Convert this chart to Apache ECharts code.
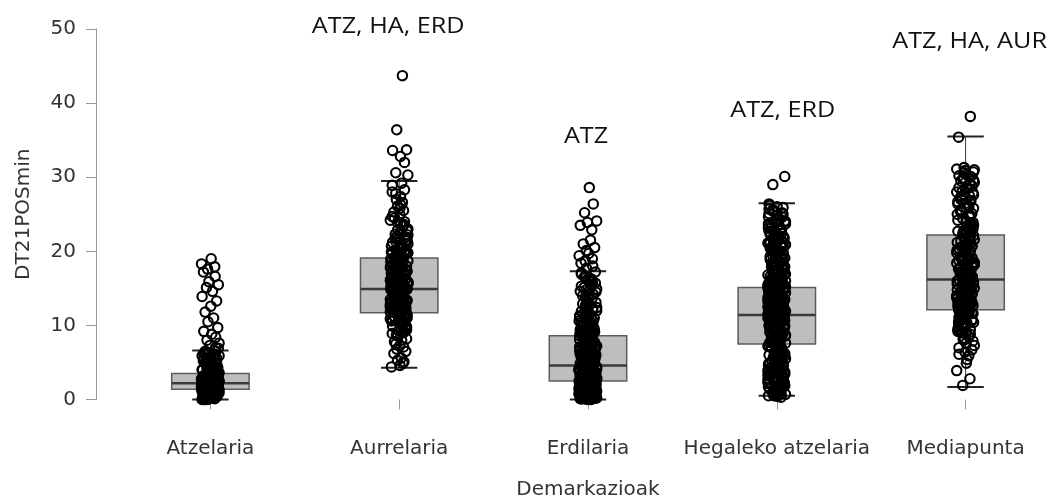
<!DOCTYPE html>
<html>
<head>
<meta charset="utf-8">
<script src="https://cdn.jsdelivr.net/npm/echarts@6/dist/echarts.min.js"></script>
<style>
  html, body { margin: 0; padding: 0; background: #ffffff; }
  #chart { width: 1051px; height: 500px; }
</style>
</head>
<body>
<div id="chart"></div>
<script>
// Playing positions (demarkazioak)
const categories = ['Atzelaria', 'Aurrelaria', 'Erdilaria', 'Hegaleko atzelaria', 'Mediapunta'];

// Box statistics per position: lower whisker, Q1, median, Q3, upper whisker
const boxLow    = [0.0,  4.3, 0.0,  0.5,  1.7];
const boxQ1     = [1.4, 11.7, 2.5,  7.5, 12.1];
const boxMedian = [2.2, 14.9, 4.6, 11.4, 16.2];
const boxQ3     = [3.5, 19.1, 8.6, 15.1, 22.2];
const boxHigh   = [6.6, 29.5, 17.3, 26.5, 35.5];

// Individual observations (DT21POSmin) per position
const pointsAtzelaria = [
  0.1,2.3,1.5,3.4,0.6,4.8,2.0,1.1,5.6,2.7,0.3,3.1,1.8,6.2,2.4,0.9,4.1,1.3,2.9,0.2,3.8,1.6,5.1,2.1,0.7,
  3.5,1.9,6.6,2.6,1.2,4.4,0.4,2.2,3.2,1.4,5.9,0.8,2.8,1.7,4.7,0.0,3.0,2.5,1.0,5.3,1.5,3.6,0.5,2.0,6.0,
  1.3,2.4,4.2,0.9,3.3,1.8,0.1,5.0,2.7,1.1,3.9,2.2,0.6,4.5,1.6,3.1,0.3,2.9,5.7,1.4,2.1,0.8,3.7,1.9,6.4,
  2.5,1.0,4.0,0.2,3.4,2.3,1.7,5.4,0.7,2.6,1.2,4.9,3.0,0.4,2.0,6.9,1.5,3.5,0.0,2.8,4.3,1.1,2.4,0.5,3.2,
  5.5,1.8,7.0,2.2,0.9,3.8,1.3,4.6,0.3,2.7,
  0.4,1.0,1.9,2.8,3.6,4.4,5.2,6.1,0.2,1.5,2.5,3.3,4.0,4.9,5.8,6.5,0.7,2.0,3.0,0.0,
  1.2,3.0,0.5,2.4,4.6,1.7,0.2,3.5,2.0,5.5,0.9,2.7,1.4,4.1,0.3,3.2,1.9,6.3,2.5,0.7,
  3.8,1.1,2.2,5.0,0.0,2.9,1.6,4.3,0.6,3.4,2.1,1.0,5.9,2.6,0.4,3.7,1.3,4.8,2.3,0.8,
  19.0,18.3,17.9,17.6,17.2,16.6,15.9,15.5,15.1,14.6,13.9,13.3,12.6,11.8,11.0,10.5,9.7,9.2,8.8,8.4,8.0,7.6,7.3
];
const pointsAurrelaria = [
  14.9,11.2,18.4,13.1,21.6,9.8,15.7,12.4,16.9,7.5,19.8,14.2,10.6,23.4,13.7,17.3,11.9,15.1,25.8,12.8,
  20.5,16.2,8.9,14.6,18.9,13.4,22.3,10.1,15.9,12.1,17.8,6.2,14.0,19.3,11.6,16.5,27.4,13.0,15.4,21.0,
  9.3,17.1,12.6,14.8,24.5,11.3,18.1,15.6,10.9,13.9,20.1,16.7,5.1,14.3,22.8,12.2,17.5,15.2,11.0,19.5,
  13.6,26.6,16.0,8.2,14.5,18.6,12.9,21.3,15.8,10.4,13.3,17.0,29.2,11.7,16.3,14.1,20.8,12.5,7.1,15.5,
  18.2,13.8,23.9,11.4,16.8,14.7,19.0,9.6,12.0,17.6,15.0,22.0,13.2,10.7,16.4,28.3,14.4,18.7,12.3,4.4,
  15.3,20.4,11.1,17.4,13.5,24.9,16.1,10.2,14.9,19.7,12.7,8.6,15.7,21.8,13.9,17.9,11.5,16.6,25.3,14.2,
  6.8,18.0,12.0,15.2,20.0,13.1,23.0,10.8,16.9,4.9,14.6,19.2,12.4,26.1,15.9,11.8,17.2,13.6,28.9,9.1,
  16.2,21.5,14.0,5.6,18.5,
  10.0,12.9,14.4,16.0,17.7,19.9,21.2,22.6,11.4,13.3,15.8,18.3,20.7,9.0,8.0,7.8,6.5,5.3,4.6,24.2,
  25.5,27.0,28.0,23.6,12.6,14.9,16.6,18.8,13.0,15.1,17.0,11.9,10.5,19.4,21.9,9.9,26.3,24.0,27.8,22.2,
  15.4,12.2,18.6,10.3,14.0,21.4,16.8,11.6,13.5,19.2,8.7,15.9,12.8,22.9,17.3,14.3,10.9,16.2,20.1,13.1,
  11.8,15.0,18.0,9.4,14.7,23.8,12.5,17.1,15.6,10.6,19.9,13.8,16.5,11.2,21.0,14.2,7.3,17.8,12.9,15.3,
  24.7,13.6,18.9,11.0,16.0,20.6,14.8,9.7,12.1,17.5,
  43.7,36.4,33.7,33.6,32.8,32.0,30.6,30.3
];
const pointsErdilaria = [
  4.7,1.2,8.3,2.9,0.4,6.1,3.5,10.2,1.8,5.3,0.9,12.6,2.5,7.4,4.1,0.1,9.6,3.0,1.5,5.9,2.2,11.3,0.6,4.4,8.9,
  1.9,3.7,6.8,0.3,2.7,14.2,5.0,1.1,7.9,3.3,0.8,4.9,2.0,9.1,1.4,6.4,3.9,0.2,10.8,2.6,5.6,1.7,13.1,4.2,0.5,
  7.1,3.1,2.3,8.5,0.0,5.2,1.6,11.9,3.6,0.7,6.6,2.8,4.6,1.0,15.4,2.1,9.9,0.4,5.4,3.4,1.3,7.6,4.0,0.9,12.1,
  2.4,6.0,1.8,3.8,8.1,0.2,4.8,2.9,16.3,1.5,5.7,0.6,10.5,3.2,1.9,7.2,4.3,0.1,2.6,9.3,5.1,1.2,6.9,3.5,0.8,
  13.7,2.2,4.5,1.4,8.7,0.3,3.0,6.3,2.0,11.0,4.9,1.1,5.8,0.5,3.7,17.1,2.5,7.7,1.6,4.1,0.0,9.0,2.8,6.2,1.0,
  3.3,14.8,5.5,0.7,2.3,8.0,4.4,1.7,6.7,0.4,3.9,10.0,2.1,5.0,1.3,12.9,3.6,0.9,7.4,2.7,4.7,1.9,16.6,0.2,5.3,
  3.1,8.4,1.5,6.5,2.4,11.6,0.6,4.2,15.9,3.4,
  10.4,12.3,13.5,14.5,15.1,16.0,11.2,9.5,12.8,14.0,10.9,13.9,15.7,16.9,11.5,9.8,8.8,12.4,13.3,14.6,
  0.5,1.7,2.5,3.2,0.2,1.0,4.0,5.6,6.2,7.0,0.8,2.1,3.6,4.3,5.1,6.6,7.8,8.2,0.1,1.4,
  16.4,17.2,15.3,14.3,10.6,11.8,12.0,13.0,9.4,7.5,
  2.9,6.5,0.8,4.2,9.7,1.6,3.4,7.8,0.3,5.1,11.4,2.2,4.7,1.0,8.6,3.7,0.5,6.0,2.6,12.7,
  1.3,5.6,3.0,9.2,0.1,4.4,7.0,1.9,10.3,3.5,0.7,5.9,2.4,13.6,4.0,1.2,6.8,3.2,0.4,8.2,
  2.0,5.3,1.5,11.1,3.9,0.9,7.3,2.7,4.6,0.2,9.8,1.7,6.3,3.1,14.9,0.6,4.9,2.3,8.9,1.1,
  5.7,3.6,0.0,10.6,2.5,6.7,1.4,4.1,12.3,0.8,3.3,7.5,2.1,5.0,16.1,1.8,9.5,3.8,0.3,6.1,
  28.6,26.4,25.2,24.1,23.9,23.5,22.9,21.5,21.0,20.5,20.1,19.7,19.4,19.0,18.7,18.4,18.0,17.7
];
const pointsHegaleko = [
  11.4,5.2,17.8,8.9,14.1,2.3,20.6,10.2,13.0,6.7,23.9,12.1,9.4,16.5,3.8,11.9,18.9,7.8,15.0,1.2,13.6,9.9,
  21.7,5.9,12.6,16.9,8.3,25.1,10.7,14.5,4.4,11.1,19.6,7.1,13.3,0.8,15.8,9.1,22.4,12.3,6.2,17.2,10.5,14.8,
  3.1,11.7,20.1,8.6,13.9,1.8,16.1,9.6,24.6,12.9,5.5,18.3,10.0,15.3,4.0,11.5,21.2,7.4,14.3,2.7,16.7,9.2,
  26.2,12.0,6.5,19.1,10.9,13.5,0.5,15.6,8.1,23.2,11.3,5.0,17.5,9.8,14.0,3.5,12.5,20.9,7.6,15.1,1.5,13.2,
  10.4,22.0,6.0,16.3,11.0,18.6,8.4,14.7,2.0,12.2,24.1,9.5,15.9,4.7,11.6,19.9,7.0,13.8,0.9,17.0,10.1,21.4,
  12.8,5.7,14.4,8.8,25.7,11.2,16.6,3.3,13.1,18.0,9.0,15.4,6.9,20.3,10.6,12.4,1.0,14.9,7.9,23.5,11.8,4.9,
  17.4,9.3,15.7,2.5,13.4,19.3,8.0,12.7,0.6,16.0,10.3,22.7,6.3,14.2,11.9,18.8,7.3,13.7,3.9,15.5,9.7,21.0,
  12.1,5.3,17.9,10.8,14.6,1.7,12.6,24.9,8.5,16.4,4.2,11.4,20.4,7.7,13.3,2.9,15.2,9.4,26.4,10.5,6.6,18.4,
  12.3,14.1,0.4,16.8,8.7,22.9,11.1,5.6,14.8,9.9,19.4,3.6,13.0,17.6,7.2,15.8,2.2,12.0,21.8,10.0,6.1,16.2,
  11.6,23.7,8.2,14.5,4.5,13.6,18.2,9.1,15.0,1.3,11.5,20.7,7.5,12.9,3.0,17.1,10.7,25.4,6.8,14.0,8.9,19.0,
  12.4,5.1,16.5,11.2,22.3,2.6,13.9,9.6,
  0.7,2.4,4.1,5.8,1.1,3.4,19.7,22.6,24.3,21.1,0.3,2.8,4.8,6.4,1.6,3.7,18.5,20.0,23.1,25.9,
  1.9,4.3,5.4,0.9,2.1,3.2,17.3,19.2,21.6,24.0,6.9,7.3,8.0,15.6,16.4,14.9,9.8,10.9,12.5,13.4,
  0.5,1.4,2.9,4.6,5.9,20.5,22.1,23.4,25.0,26.0,3.9,1.2,6.3,17.7,18.9,21.9,11.8,13.0,8.7,9.3,
  12.2,8.5,15.9,4.1,10.8,19.5,6.6,13.7,1.6,17.2,9.7,22.8,11.3,3.4,14.9,7.9,24.7,12.6,5.0,16.0,
  10.1,20.2,2.3,13.1,8.2,18.1,0.9,11.9,15.2,6.0,23.0,9.0,14.3,4.6,21.5,12.9,7.2,16.8,1.1,10.6,
  19.0,5.7,13.5,25.6,8.8,15.6,3.0,11.0,17.9,6.4,22.2,9.5,14.6,0.6,12.4,20.9,7.6,16.3,4.9,10.3,
  24.4,13.9,2.8,18.6,8.0,15.1,5.4,11.7,21.3,6.9,13.0,1.9,17.5,9.9,23.7,12.1,3.7,14.0,7.3,19.8,
  10.0,16.6,4.3,25.2,11.5,8.6,14.8,2.1,18.4,6.2,12.7,20.5,9.3,15.5,3.3,13.4,22.6,7.7,17.0,0.8,
  30.1,29.0
];
const pointsMediapunta = [
  16.3,9.8,22.9,13.4,27.6,11.0,19.2,14.8,25.1,7.6,17.7,12.5,29.8,15.6,20.4,10.3,23.8,13.9,18.5,6.4,
  26.7,16.9,11.7,21.3,14.2,30.6,9.1,19.8,15.1,24.4,12.8,17.2,8.3,22.1,13.1,28.5,16.0,10.6,20.9,14.5,
  26.0,11.3,18.1,7.0,23.4,15.4,12.2,31.0,17.5,9.5,21.7,13.7,25.6,16.6,10.9,19.5,14.0,29.1,12.0,18.8,
  8.8,22.6,15.8,27.1,11.5,20.1,13.2,24.0,17.0,5.9,16.1,12.7,30.2,14.3,21.0,10.0,18.3,15.0,26.4,11.9,
  23.1,13.5,19.1,8.0,17.8,28.0,14.7,22.4,12.3,16.8,31.3,10.4,20.6,15.3,25.0,13.0,18.0,9.3,21.5,16.4,
  27.9,11.1,14.1,23.7,17.3,7.3,19.9,12.6,24.8,15.5,29.5,10.8,16.2,20.3,13.8,26.9,18.6,12.1,22.0,14.9,
  30.7,9.0,17.1,21.2,6.7,15.7,25.4,13.3,19.4,11.6,28.6,16.7,23.3,14.4,
  18.2,20.5,22.7,24.6,26.2,27.4,28.8,29.9,30.4,31.1,14.6,16.0,17.6,19.0,21.8,23.5,25.3,12.4,13.6,15.2,
  10.1,11.4,8.5,9.7,7.9,6.1,5.4,26.8,28.1,29.3,30.9,24.2,22.5,20.8,19.3,17.9,16.5,15.0,13.9,12.9,
  11.8,10.5,9.4,27.7,25.8,
  16.9,12.3,20.2,14.4,25.9,10.6,18.7,15.3,23.0,13.0,28.4,17.4,11.2,21.6,15.9,9.2,19.6,13.8,27.0,16.5,
  22.8,12.8,18.4,24.9,14.8,10.2,20.0,17.0,29.6,13.4,21.1,15.6,11.7,26.5,19.2,14.1,8.2,23.9,16.2,12.0,
  30.1,18.9,15.0,22.3,13.2,27.5,17.7,10.9,20.7,14.7,
  4.9,3.9,2.8,1.9,35.4,38.2
];
const pointsByCategory = [pointsAtzelaria, pointsAurrelaria, pointsErdilaria, pointsHegaleko, pointsMediapunta];

// Pairwise-difference annotations above the groups
const groupLabelIndex = [1, 2, 3, 4];
const groupLabelText  = ['ATZ, HA, ERD', 'ATZ', 'ATZ, ERD', 'ATZ, HA, AUR'];
const groupLabelValue = [50.3, 35.4, 38.9, 48.2];

// Horizontal jitter offsets (fraction of a category band), cycled over the points
const JITTER = [-0.037, 0.025, -0.008, 0.042, -0.021, 0.011, -0.044, 0.033, 0.002, -0.028,
                0.017, -0.013, 0.039, -0.035, 0.007, 0.028, -0.018, 0.046, -0.003, -0.041,
                0.020, 0.013, -0.025, 0.035, -0.009, 0.004, -0.047, 0.023, -0.015];
const LABEL_SHIFT = [-11, -2, 6, 4];

const AXIS_FONT = '"DejaVu Sans", sans-serif';

const boxData = categories.map((c, i) => [i, boxLow[i], boxQ1[i], boxMedian[i], boxQ3[i], boxHigh[i]]);

const pointData = [];
pointsByCategory.forEach((vals, c) => {
  vals.forEach((v, k) => {
    pointData.push([c, JITTER[(k + c * 7) % JITTER.length], v]);
  });
});

const labelData = groupLabelIndex.map((c, i) => [c, groupLabelValue[i], i]);

function renderBox(params, api) {
  const i = api.value(0);
  const low = api.coord([i, api.value(1)]);
  const q1 = api.coord([i, api.value(2)]);
  const med = api.coord([i, api.value(3)]);
  const q3 = api.coord([i, api.value(4)]);
  const high = api.coord([i, api.value(5)]);
  const band = api.size([1, 0])[0];
  const bw = band * 0.41;
  const cw = bw * 0.47;
  const x = low[0];
  const whisker = { stroke: '#333333', lineWidth: 1 };
  const cap = { stroke: '#222222', lineWidth: 2 };
  return {
    type: 'group',
    children: [
      { type: 'line', shape: { x1: x, y1: q3[1], x2: x, y2: high[1] }, style: whisker },
      { type: 'line', shape: { x1: x, y1: q1[1], x2: x, y2: low[1] }, style: whisker },
      { type: 'line', shape: { x1: x - cw / 2, y1: high[1], x2: x + cw / 2, y2: high[1] }, style: cap },
      { type: 'line', shape: { x1: x - cw / 2, y1: low[1], x2: x + cw / 2, y2: low[1] }, style: cap },
      { type: 'rect', shape: { x: x - bw / 2, y: q3[1], width: bw, height: q1[1] - q3[1] },
        style: { fill: '#bebebe', stroke: '#5c5c5c', lineWidth: 1.5 } },
      { type: 'line', shape: { x1: x - bw / 2, y1: med[1], x2: x + bw / 2, y2: med[1] },
        style: { stroke: '#3a3a3a', lineWidth: 2.5 } }
    ]
  };
}

function renderPoint(params, api) {
  const p = api.coord([api.value(0), api.value(2)]);
  const band = api.size([1, 0])[0];
  return {
    type: 'circle',
    shape: { cx: p[0] + api.value(1) * band, cy: p[1], r: 4.7 },
    style: { fill: 'transparent', stroke: '#000000', lineWidth: 2.1 }
  };
}

function renderLabel(params, api) {
  const p = api.coord([api.value(0), api.value(1)]);
  const idx = api.value(2);
  return {
    type: 'text',
    x: p[0] + LABEL_SHIFT[idx],
    y: p[1],
    scaleX: 1.2,
    style: {
      text: groupLabelText[idx],
      font: '21px "Open Sans", sans-serif',
      fill: '#111111',
      align: 'center',
      verticalAlign: 'middle'
    }
  };
}

const chart = echarts.init(document.getElementById('chart'), null, { renderer: 'canvas' });
chart.setOption({
  animation: false,
  backgroundColor: '#ffffff',
  grid: { left: 116, top: 29, width: 944, bottom: 100.5, containLabel: false, outerBoundsMode: 'none' },
  xAxis: {
    type: 'category',
    data: categories,
    offset: 18.5,
    axisLine: { show: false },
    axisTick: { show: true, alignWithLabel: true, length: 10, lineStyle: { color: '#999999', width: 1 } },
    axisLabel: { interval: 0, margin: 21, fontSize: 20, fontFamily: AXIS_FONT, color: '#333333' },
    splitLine: { show: false },
    name: 'Demarkazioak',
    nameLocation: 'middle',
    nameGap: 62,
    nameTextStyle: { fontSize: 20, fontFamily: AXIS_FONT, color: '#333333' }
  },
  yAxis: {
    type: 'value',
    min: 0,
    max: 50,
    interval: 10,
    offset: 20,
    axisLine: { show: true, lineStyle: { color: '#999999', width: 1 } },
    axisTick: { show: true, length: 10, lineStyle: { color: '#999999', width: 1 } },
    axisLabel: { margin: 20, fontSize: 20, fontFamily: AXIS_FONT, color: '#333333', padding: [4, 0, 0, 0] },
    splitLine: { show: false },
    name: 'DT21POSmin',
    nameLocation: 'middle',
    nameGap: 62,
    nameRotate: 90,
    nameTextStyle: { fontSize: 20, fontFamily: AXIS_FONT, color: '#333333' }
  },
  series: [
    { type: 'custom', name: 'box', renderItem: renderBox, data: boxData, clip: false, z: 2 },
    { type: 'custom', name: 'points', renderItem: renderPoint, data: pointData, clip: false, z: 3 },
    { type: 'custom', name: 'labels', renderItem: renderLabel, data: labelData, clip: false, z: 4 }
  ]
});
</script>
</body>
</html>
